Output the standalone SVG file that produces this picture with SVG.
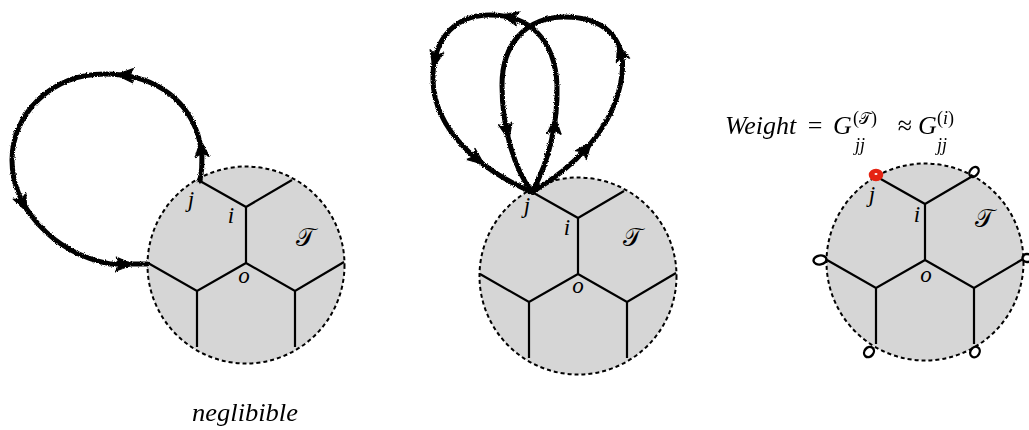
<svg xmlns="http://www.w3.org/2000/svg" xmlns:xlink="http://www.w3.org/1999/xlink" width="1029" height="430" viewBox="0 0 1029 430">
<style>
.region{fill:#d6d6d6;stroke:#000;stroke-width:2;stroke-dasharray:4 3}
.edge{fill:none;stroke:#000;stroke-width:2.2;stroke-linejoin:miter}
.lbl{font-family:"Liberation Serif","Times New Roman","DejaVu Serif",serif;font-style:italic;font-size:23px;fill:#000;text-anchor:middle}
.scr{font-family:"DejaVu Serif","DejaVu Sans","Noto Sans",serif;font-size:25px;fill:#000;text-anchor:middle}
.loop{fill:none;stroke:#000;stroke-width:5;stroke-linecap:round}
.ah{fill:#000;stroke:#000;stroke-width:1.2;stroke-linejoin:round}
.eq{font-family:"Liberation Serif","Times New Roman",serif;font-size:26px;fill:#000}
.it{font-style:italic}
.sm{font-size:18px}
.tad{fill:none;stroke:#000;stroke-width:2.4}
</style>
<defs>
<filter id="rough" x="-10%" y="-10%" width="120%" height="120%">
<feTurbulence type="fractalNoise" baseFrequency="1.1" numOctaves="2" seed="3"/>
<feDisplacementMap in="SourceGraphic" scale="3" xChannelSelector="R" yChannelSelector="G"/>
</filter>
<path id="ah" class="ah" d="M4,0 L-13,-7 L-9,0 L-13,7 Z"/>
<g id="hex">
<circle class="region" cx="0" cy="2" r="98.5"/>
<path class="edge" d="M0,0 V-56 L-46,-82 M0,-56 L46,-83 M0,0 L-49,28 L-98,0 M-49,28 V84 M0,0 L49,28 L98,-1 M49,28 V84"/>
</g>
</defs>

<g id="graph-left" transform="translate(246,263)">
<use xlink:href="#hex"/>
<text class="lbl" x="-55" y="-56">j</text>
<text class="lbl" x="-15" y="-40">i</text>
<text class="lbl" x="-2" y="20">o</text>
<text class="scr" x="59" y="-17">𝒯</text>
</g>

<g id="graph-middle" transform="translate(578,274)">
<use xlink:href="#hex"/>
<text class="lbl" x="-51" y="-61">j</text>
<text class="lbl" x="-11" y="-39">i</text>
<text class="lbl" x="0" y="19">o</text>
<text class="scr" x="54" y="-28">𝒯</text>
</g>

<g id="graph-right" transform="translate(925,260)">
<use xlink:href="#hex"/>
<text class="lbl" x="-53" y="-58">j</text>
<text class="lbl" x="-8" y="-38">i</text>
<text class="lbl" x="1" y="22">o</text>
<text class="scr" x="59" y="-33">𝒯</text>
<g id="end-loops">
<ellipse cx="-49" cy="-85" rx="6.5" ry="5.5" fill="#e52413" stroke="#e52413" stroke-width="1.5"/>
<ellipse cx="-49" cy="-86" rx="1.5" ry="1" fill="#fff"/>
<ellipse class="tad" cx="49" cy="-88" rx="5.5" ry="4" transform="rotate(-50 49 -88)"/>
<ellipse class="tad" cx="-105" cy="0" rx="6.5" ry="4.5" transform="rotate(-10 -105 0)"/>
<ellipse class="tad" cx="-56" cy="92" rx="5.5" ry="4.5" transform="rotate(-50 -56 92)"/>
<ellipse class="tad" cx="50" cy="92" rx="5.5" ry="4.5" transform="rotate(-60 50 92)"/>
<ellipse class="tad" cx="102" cy="-2" rx="4.5" ry="4"/>
</g>
</g>

<g id="connectors" filter="url(#rough)">
<path class="loop" d="M200,181 C203,165 203,150 198,135 C185,95 150,74 105,74 C50,74 12,115 12,160 C12,205 50,252 110,264 L147,264"/>
<use xlink:href="#ah" transform="translate(201,144) rotate(-95)"/>
<use xlink:href="#ah" transform="translate(120,75) rotate(183)"/>
<use xlink:href="#ah" transform="translate(25,208) rotate(65)"/>
<use xlink:href="#ah" transform="translate(129,264.5) rotate(2)"/>

<path class="loop" d="M532,192 C550,160 558,120 557,85 C555,40 530,15 490,15 C450,15 432,45 433,80 C434,130 480,170 532,192"/>
<path class="loop" d="M532,192 C570,170 615,130 622,75 C627,35 600,17 565,17 C525,17 502,45 502,85 C502,130 515,170 532,192"/>
<use xlink:href="#ah" transform="translate(555,121) rotate(-86)"/>
<use xlink:href="#ah" transform="translate(505,16) rotate(192)"/>
<use xlink:href="#ah" transform="translate(434,64) rotate(103)"/>
<use xlink:href="#ah" transform="translate(481,162) rotate(38)"/>
<use xlink:href="#ah" transform="translate(508,136) rotate(78)"/>
<use xlink:href="#ah" transform="translate(589,145) rotate(-51)"/>
<use xlink:href="#ah" transform="translate(619,48) rotate(-108)"/>
</g>

<g id="weight-label">
<text class="eq it" x="725" y="134">Weight</text>
<text class="eq" x="815" y="134" text-anchor="middle">=</text>
<text class="eq it" x="833" y="134">G</text>
<text class="eq sm" x="853" y="124">(<tspan font-family="DejaVu Serif,serif" font-size="16">𝒯</tspan>)</text>
<text class="eq it sm" x="855" y="151">jj</text>
<text class="eq" x="905" y="134" font-size="28" text-anchor="middle">≈</text>
<text class="eq it" x="918" y="134">G</text>
<text class="eq sm" x="937" y="124">(<tspan class="it">i</tspan>)</text>
<text class="eq it sm" x="937" y="151">jj</text>
</g>

<text id="caption" class="eq it" x="192" y="421" font-size="24" textLength="106" lengthAdjust="spacingAndGlyphs">neglibible</text>
</svg>
